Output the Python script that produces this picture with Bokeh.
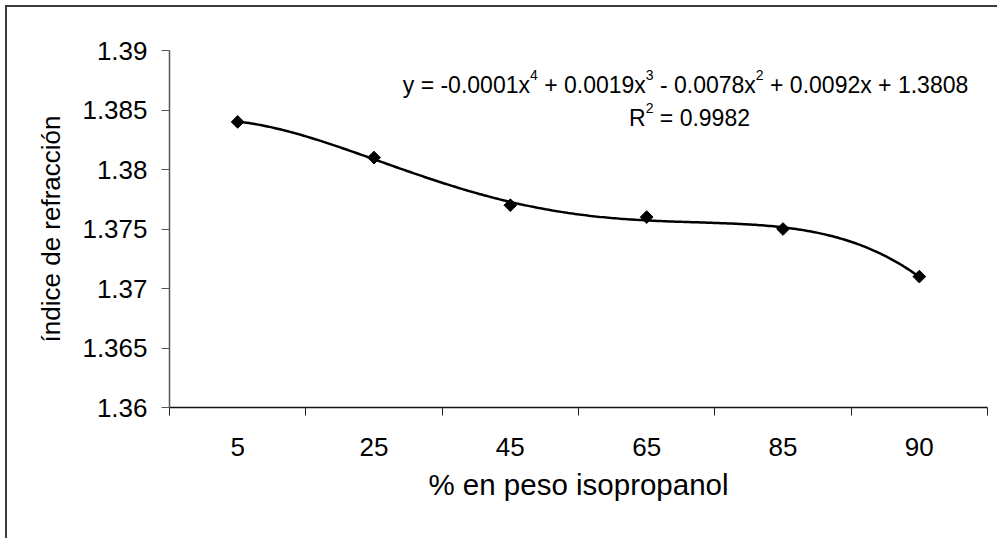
import numpy as np
from bokeh.plotting import figure
from bokeh.models import Range1d, FixedTicker, NumeralTickFormatter, Label
from bokeh.embed import file_html
from bokeh.resources import INLINE

# Refractive index of isopropanol/water mixtures
categories = ["5", "25", "45", "65", "85", "90"]
refr_index = [1.384, 1.381, 1.377, 1.376, 1.375, 1.371]
y_ticks = [1.36, 1.365, 1.37, 1.375, 1.38, 1.385, 1.39]
# trendline label, as (text, is_superscript) runs
eq_line1 = [("y = -0.0001x", False), ("4", True), (" + 0.0019x", False), ("3", True),
            (" - 0.0078x", False), ("2", True), (" + 0.0092x + 1.3808", False)]
eq_line2 = [("R", False), ("2", True), (" = 0.9982", False)]

FONT = "Liberation Sans"
MAIN_PX = 23
SUP_PX = 14

# categories sit at the centre of unit-wide slots
n = len(categories)
xpos = np.arange(n) + 0.5

# 4th-order polynomial trendline over category index 1..n
idx = np.arange(1, n + 1)
coef = np.polyfit(idx, refr_index, 4)
t = np.linspace(1, n, 300)
curve_x = t - 0.5
curve_y = np.polyval(coef, t)

# plot frame geometry (page pixels); canvas starts at (7, 7) after margin + border
FRAME_L, FRAME_R, FRAME_T, FRAME_B = 169, 987, 50, 407
CANVAS_X0, CANVAS_Y0 = 7, 7
W, H = 992, 533

p = figure(width=W, height=H, output_backend="svg", toolbar_location=None,
           x_range=Range1d(0, n), y_range=Range1d(y_ticks[0], y_ticks[-1]),
           min_border_left=FRAME_L - CANVAS_X0,
           min_border_right=W - (FRAME_R - CANVAS_X0),
           min_border_top=FRAME_T - CANVAS_Y0,
           min_border_bottom=H - (FRAME_B - CANVAS_Y0))
p.styles = {"margin-left": "5px", "margin-top": "5px",
            "border-top": "2px solid #3c3c3c", "border-left": "2px solid #3c3c3c"}
p.outline_line_color = None
p.xgrid.visible = False
p.ygrid.visible = False
p.background_fill_color = "white"
p.border_fill_color = "white"

# x axis: labels at slot centres, tick marks at slot boundaries
xa = p.xaxis[0]
xa.ticker = FixedTicker(ticks=list(xpos), minor_ticks=list(range(n + 1)))
xa.major_label_overrides = {float(x): c for x, c in zip(xpos, categories)}
xa.major_tick_out = 0
xa.major_tick_in = 0
xa.minor_tick_out = 8
xa.minor_tick_in = 0
xa.minor_tick_line_color = "#222222"
xa.minor_tick_line_width = 1
xa.axis_line_color = "#111111"
xa.axis_line_width = 1.5
xa.major_label_standoff = 22
xa.major_label_text_font = FONT
xa.major_label_text_font_size = "26px"
xa.major_label_text_color = "black"
xa.axis_label = "% en peso isopropanol"
xa.axis_label_text_font = FONT
xa.axis_label_text_font_size = "29.5px"
xa.axis_label_text_font_style = "normal"
xa.axis_label_text_color = "black"
xa.axis_label_standoff = 9

ya = p.yaxis[0]
ya.ticker = FixedTicker(ticks=y_ticks)
ya.formatter = NumeralTickFormatter(format="0.[000]")
ya.major_tick_out = 8
ya.major_tick_in = 0
ya.minor_tick_out = 0
ya.minor_tick_in = 0
ya.major_tick_line_color = "#555555"
ya.axis_line_color = "#555555"
ya.axis_line_width = 1.5
ya.major_label_standoff = 14
ya.major_label_text_font = FONT
ya.major_label_text_font_size = "26px"
ya.major_label_text_color = "black"
ya.axis_label = "índice de refracción"
ya.axis_label_text_font = FONT
ya.axis_label_text_font_size = "26px"
ya.axis_label_text_font_style = "normal"
ya.axis_label_text_color = "black"
ya.axis_label_standoff = 13

# trendline and measured points
p.line(curve_x, curve_y, line_color="black", line_width=2.5)
p.scatter(xpos, refr_index, marker="square", angle=np.pi / 4, size=9,
          fill_color="black", line_color="black")

# --- trendline label with raised exponents -------------------------------
# advance widths (1/1000 em) of the Arial-metric font for the glyphs used
ADV = {" ": 278, "+": 584, "-": 333, "=": 584, ".": 278, "x": 500, "y": 500, "R": 722}
ADV.update({d: 556 for d in "0123456789"})


def run_width(s, px):
    return sum(ADV[c] for c in s) * px / 1000.0


def px_to_data(px, py):
    xd = (px - FRAME_L) / (FRAME_R - FRAME_L) * n
    yd = y_ticks[-1] - (py - FRAME_T) / (FRAME_B - FRAME_T) * (y_ticks[-1] - y_ticks[0])
    return xd, yd


def draw_runs(runs, center_px, baseline_px):
    sizes = [SUP_PX if sup else MAIN_PX for _, sup in runs]
    total = sum(run_width(s, sz) for (s, _), sz in zip(runs, sizes))
    cur = center_px - total / 2.0
    for (s, sup), sz in zip(runs, sizes):
        lead = len(s) - len(s.lstrip(" "))
        start = cur + run_width(s[:lead], sz)
        base = baseline_px - (10 if sup else 0)
        xd, yd = px_to_data(start, base)
        p.add_layout(Label(x=xd, y=yd, text=s.strip(" "), text_align="left",
                           text_baseline="alphabetic", text_font=FONT,
                           text_font_size=f"{sz}px", text_color="black"))
        cur += run_width(s, sz)


draw_runs(eq_line1, 685, 84)
draw_runs(eq_line2, 689, 117)

open("out.html", "w").write(file_html(p, INLINE))
